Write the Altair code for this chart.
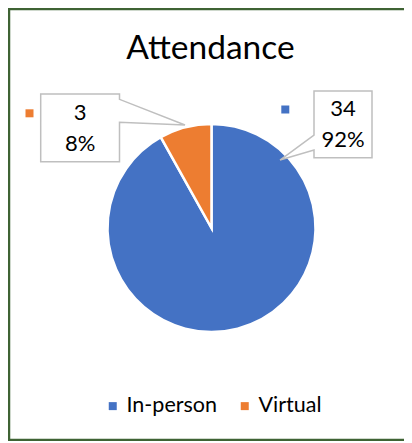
import altair as alt
import pandas as pd

# ---- data ----
categories = ["In-person", "Virtual"]
values = [34, 3]
colors = ["#4472C4", "#ED7D31"]
title_text = "Attendance"

total = sum(values)
pcts = [round(100 * v / total) for v in values]

# ---- layout (page pixels; converted to view pixels) ----
PAD = {"left": 1, "top": 1, "right": -8, "bottom": 1}
OX, OY = 8 + 1, 8 + 1
W, H = 403, 431
CX, CY, R = 211.5 - OX, 228 - OY, 104
FONT = "Lato"
FRAME = "#3F6334"

boxes = {
    "Virtual": dict(l=40.7, t=94, r=119.5, b=161.7, side="right", a1=99.3, a2=122.3, tip=(185, 125),
                    key=(29.5, 113.3)),
    "In-person": dict(l=314, t=91, r=372, b=157.7, side="left", a1=135, a2=150, tip=(280, 160),
                      key=(285.3, 109.5)),
}


def callout_path(b):
    cx = (b["l"] + b["r"]) / 2
    cy = (b["t"] + b["b"]) / 2
    hw = (b["r"] - b["l"]) / 2
    hh = (b["b"] - b["t"]) / 2
    tx, ty = b["tip"][0] - cx, b["tip"][1] - cy
    a1, a2 = b["a1"] - cy, b["a2"] - cy
    if b["side"] == "right":
        pts = [(-hw, -hh), (hw, -hh), (hw, a1), (tx, ty), (hw, a2), (hw, hh), (-hw, hh)]
    else:
        pts = [(-hw, -hh), (hw, -hh), (hw, hh), (-hw, hh), (-hw, a2), (tx, ty), (-hw, a1)]
    return "M" + " L".join(f"{x:.1f},{y:.1f}" for x, y in pts) + " Z"


rows = []
for i, (c, v, p) in enumerate(zip(categories, values, pcts)):
    b = boxes[c]
    bx = (b["l"] + b["r"]) / 2 - OX
    by = (b["t"] + b["b"]) / 2 - OY
    rows.append(dict(category=c, value=v, order=i, count_txt=str(v), pct_txt=f"{p}%",
                     bx=bx, by=by, l1=by - 15, l2=by + 16,
                     kx=b["key"][0] - OX, ky=b["key"][1] - OY,
                     path=callout_path(b)))
df = pd.DataFrame(rows)

color_enc = alt.Color(
    "category:N",
    scale=alt.Scale(domain=categories, range=colors),
    legend=alt.Legend(
        orient="none", legendX=93, legendY=386, direction="horizontal",
        symbolType="square", symbolSize=64, symbolStrokeWidth=0,
        labelFont=FONT, labelFontSize=21.5, labelColor="#000000",
        labelOffset=3, columnPadding=16, title=None, padding=0,
    ),
)

base = alt.Chart(df)

pie = base.mark_arc(outerRadius=R, stroke="white", strokeWidth=2.5).encode(
    theta=alt.Theta("value:Q", stack=True),
    order=alt.Order("order:Q"),
    color=color_enc,
    x=alt.value(CX),
    y=alt.value(CY),
)

callouts = base.mark_point(filled=True, fill="white", stroke="#BFBFBF", strokeWidth=1.5,
                           size=4, opacity=1).encode(
    x=alt.X("bx:Q", scale=None),
    y=alt.Y("by:Q", scale=None),
    shape=alt.Shape("path:N", scale=None),
)

keys = base.mark_point(shape="square", filled=True, size=64, opacity=1).encode(
    x=alt.X("kx:Q", scale=None),
    y=alt.Y("ky:Q", scale=None),
    color=alt.Color("category:N", scale=alt.Scale(domain=categories, range=colors), legend=None),
)

line1 = base.mark_text(font=FONT, fontSize=22, color="#000000", baseline="middle", align="center").encode(
    x=alt.X("bx:Q", scale=None), y=alt.Y("l1:Q", scale=None), text="count_txt:N")
line2 = base.mark_text(font=FONT, fontSize=22, color="#000000", baseline="middle", align="center").encode(
    x=alt.X("bx:Q", scale=None), y=alt.Y("l2:Q", scale=None), text="pct_txt:N")

title = alt.Chart(pd.DataFrame({"t": [title_text]})).mark_text(
    font=FONT, fontSize=33.5, color="#000000", baseline="alphabetic", align="center"
).encode(x=alt.value(210.5 - OX), y=alt.value(59.3 - OY), text="t:N")

frame_src = alt.Chart(pd.DataFrame({"f": [0]}))
frame_left = frame_src.mark_rule(color=FRAME, strokeWidth=2.5).encode(
    x=alt.value(0), y=alt.value(0), y2=alt.value(H))
frame_top = frame_src.mark_rule(color=FRAME, strokeWidth=2.5).encode(
    x=alt.value(-1), x2=alt.value(W), y=alt.value(0))
frame_bottom = frame_src.mark_rule(color=FRAME, strokeWidth=2.5).encode(
    x=alt.value(-1), x2=alt.value(W), y=alt.value(H))

chart = (
    alt.layer(pie, callouts, keys, line1, line2, title, frame_left, frame_top, frame_bottom)
    .properties(width=W, height=H, padding=PAD, autosize=alt.AutoSizeParams(type="none"))
    .configure_view(strokeWidth=0)
)

chart.save("out.html", embed_options={"renderer": "svg", "actions": False})
